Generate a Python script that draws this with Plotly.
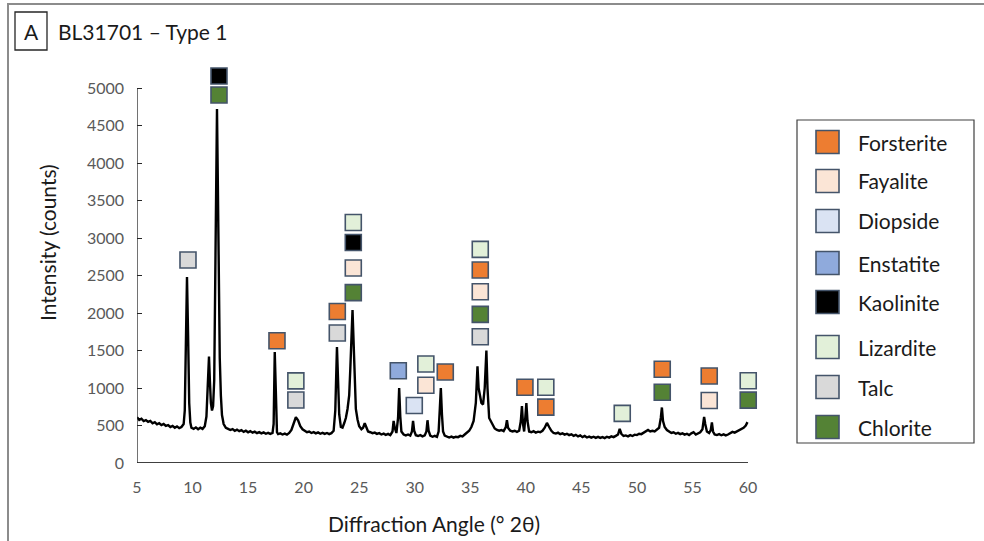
import plotly.graph_objects as go

# ---------------- data ----------------
two_theta = [
    5.0, 5.2, 5.4, 5.6, 5.8, 6.0, 6.2, 6.4, 6.6, 6.8, 7.0, 7.2, 7.4, 7.6, 7.8, 8.0, 8.2, 8.4, 8.6, 8.8,
    9.0, 9.2, 9.3, 9.4, 9.5, 9.6, 9.7, 9.8, 9.9, 10.1, 10.3, 10.5, 10.7, 10.9, 11.1, 11.25, 11.4, 11.48,
    11.56, 11.65, 11.75, 11.85, 11.95, 12.05, 12.12, 12.2, 12.28, 12.36, 12.45, 12.55, 12.65, 12.8,
    13.0, 13.2, 13.4, 13.6, 13.8, 14.0, 14.2, 14.4, 14.6, 14.8, 15.0, 15.2, 15.4, 15.6, 15.8, 16.0,
    16.2, 16.4, 16.6, 16.8, 17.0, 17.2, 17.3, 17.4, 17.5, 17.6, 17.7, 17.9, 18.1, 18.3, 18.5, 18.7,
    18.9, 19.1, 19.3, 19.5, 19.7, 19.9, 20.1, 20.3, 20.5, 20.7, 20.9, 21.1, 21.3, 21.5, 21.7, 21.9,
    22.1, 22.3, 22.5, 22.7, 22.85, 22.95, 23.0, 23.1, 23.2, 23.35, 23.5, 23.65, 23.8, 23.95, 24.1,
    24.2, 24.3, 24.4, 24.5, 24.6, 24.7, 24.85, 25.0, 25.2, 25.35, 25.5, 25.65, 25.8, 26.0, 26.2, 26.4,
    26.6, 26.8, 27.0, 27.2, 27.4, 27.6, 27.8, 28.0, 28.1, 28.2, 28.35, 28.5, 28.6, 28.7, 28.8, 29.0,
    29.2, 29.4, 29.6, 29.75, 29.85, 29.95, 30.1, 30.3, 30.5, 30.7, 30.9, 31.05, 31.15, 31.25, 31.4,
    31.6, 31.8, 32.0, 32.15, 32.25, 32.35, 32.45, 32.55, 32.7, 32.9, 33.1, 33.3, 33.5, 33.7, 33.9,
    34.1, 34.3, 34.5, 34.7, 34.9, 35.1, 35.3, 35.5, 35.65, 35.75, 35.9, 36.0, 36.15, 36.3, 36.45,
    36.55, 36.7, 36.85, 37.0, 37.2, 37.4, 37.6, 37.8, 38.0, 38.2, 38.3, 38.4, 38.6, 38.8, 39.0, 39.2,
    39.4, 39.55, 39.65, 39.75, 39.85, 39.95, 40.05, 40.15, 40.3, 40.5, 40.7, 40.9, 41.1, 41.3, 41.5,
    41.7, 41.9, 42.1, 42.3, 42.5, 42.7, 42.9, 43.1, 43.3, 43.5, 43.7, 43.9, 44.1, 44.3, 44.5, 44.7,
    44.9, 45.1, 45.3, 45.5, 45.7, 45.9, 46.1, 46.3, 46.5, 46.7, 46.9, 47.1, 47.3, 47.5, 47.7, 47.9,
    48.1, 48.3, 48.45, 48.6, 48.8, 49.0, 49.2, 49.4, 49.6, 49.8, 50.0, 50.2, 50.4, 50.6, 50.8, 51.0,
    51.2, 51.4, 51.6, 51.8, 52.0, 52.15, 52.25, 52.35, 52.5, 52.7, 52.9, 53.1, 53.3, 53.5, 53.7,
    53.9, 54.1, 54.3, 54.5, 54.7, 54.9, 55.1, 55.3, 55.5, 55.7, 55.9, 56.05, 56.15, 56.3, 56.5,
    56.65, 56.75, 56.85, 57.0, 57.2, 57.4, 57.6, 57.8, 58.0, 58.2, 58.4, 58.6, 58.8, 59.0, 59.2,
    59.4, 59.6, 59.8, 59.95,
]
counts = [
    610, 575, 590, 560, 572, 548, 560, 530, 545, 515, 530, 505, 520, 495, 505, 480, 495, 470, 488, 465,
    480, 520, 700, 1500, 2480, 1700, 800, 540, 470, 455, 475, 450, 470, 455, 490, 620, 1150, 1420,
    1100, 800, 700, 760, 1100, 2600, 4000, 4720, 3700, 2400, 1400, 900, 640, 520,
    470, 455, 440, 452, 430, 445, 425, 438, 415, 430, 410, 425, 405, 418, 398, 412,
    395, 408, 390, 402, 388, 400, 520, 1480, 720, 410, 385, 395, 380, 392, 378, 400,
    440, 540, 610, 570, 490, 450, 425, 410, 420, 400, 412, 395, 408, 390, 402, 388,
    400, 385, 398, 430, 700, 1400, 1545, 1100, 650, 480, 470, 530, 600, 720, 900,
    1250, 1700, 2040, 1600, 1000, 720, 580, 490, 450, 470, 530, 460, 420, 410, 398, 405,
    388, 398, 380, 392, 375, 388, 372, 420, 560, 470, 400, 600, 1000, 620, 420, 380,
    368, 380, 365, 420, 560, 430, 370, 360, 372, 355, 368, 420, 570, 430, 365,
    350, 362, 348, 420, 700, 1000, 650, 420, 365, 350, 340, 352, 338, 350, 345,
    362, 355, 380, 400, 430, 480, 560, 800, 1290, 1000, 850, 800, 780, 1000, 1500,
    1000, 600, 560, 520, 460, 440, 430, 440, 425, 480, 570, 470, 430, 420, 430, 415,
    430, 560, 760, 520, 420, 600, 800, 560, 420, 410, 425, 405, 418, 410, 430,
    470, 535, 480, 430, 400, 392, 405, 385, 395, 378, 390, 372, 382, 362, 375, 355,
    368, 345, 360, 340, 352, 338, 350, 335, 348, 335, 345, 332, 350, 338, 355, 345,
    362, 380, 455, 390, 360, 368, 355, 372, 360, 378, 372, 390, 385, 405, 420, 440,
    420, 430, 420, 440, 470, 600, 740, 560, 480, 440, 420, 400, 410, 390, 402,
    385, 395, 378, 390, 372, 395, 410, 380, 392, 410, 450, 613, 520, 420, 400,
    440, 540, 420, 380, 372, 385, 370, 382, 368, 380, 400, 415, 405, 420, 430,
    450, 470, 500, 545,
]

minerals = ["Forsterite", "Fayalite", "Diopside", "Enstatite",
            "Kaolinite", "Lizardite", "Talc", "Chlorite"]
mineral_colors = ["#ED7D31", "#FBE5D6", "#DAE3F3", "#8FAADC",
                  "#000000", "#E2F0D9", "#D9D9D9", "#548235"]

# label positions (angle, intensity) for each phase marker
forsterite_x = [17.6, 23.03, 32.75, 35.9, 39.92, 41.8, 52.28, 56.51]
forsterite_y = [1630, 2020, 1213, 2573, 1010, 745, 1250, 1160]
fayalite_x = [24.47, 31.0, 35.9, 56.51]
fayalite_y = [2600, 1036, 2283, 833]
diopside_x = [29.96]
diopside_y = [766]
enstatite_x = [28.52]
enstatite_y = [1230]
kaolinite_x = [12.38, 24.47]
kaolinite_y = [5160, 2940]
lizardite_x = [19.3, 24.47, 31.0, 35.9, 41.8, 48.68, 60.02]
lizardite_y = [1095, 3206, 1320, 2848, 1010, 662, 1097]
talc_x = [9.59, 19.3, 23.03, 35.9]
talc_y = [2707, 840, 1733, 1684]
chlorite_x = [12.38, 24.47, 35.9, 52.28, 60.02]
chlorite_y = [4907, 2272, 1982, 943, 838]

marker_x = [forsterite_x, fayalite_x, diopside_x, enstatite_x,
            kaolinite_x, lizardite_x, talc_x, chlorite_x]
marker_y = [forsterite_y, fayalite_y, diopside_y, enstatite_y,
            kaolinite_y, lizardite_y, talc_y, chlorite_y]

x_ticks = [5, 10, 15, 20, 25, 30, 35, 40, 45, 50, 55, 60]
y_ticks = [0, 500, 1000, 1500, 2000, 2500, 3000, 3500, 4000, 4500, 5000]
x_axis_span = [5, 60]
y_axis_span = [0, 5000]

# ---------------- layout geometry (pixels) ----------------
W, H = 984, 541
X0_PX, X1_PX = 137, 748     # pixel positions of x = 5 and x = 60
Y0_PX, Y1_PX = 463, 88      # pixel positions of y = 0 and y = 5000
sx = (X1_PX - X0_PX) / (x_axis_span[1] - x_axis_span[0])
sy = (Y0_PX - Y1_PX) / (y_axis_span[1] - y_axis_span[0])

# enlarge the plotting area a little so that the phase labels at the
# edges (x = 60, y > 5000) are not hidden; axis lines are drawn as shapes
L, B = X0_PX, Y0_PX
R, T = 756, 62
x_range = [x_axis_span[0], x_axis_span[0] + (R - L) / sx]
y_range = [y_axis_span[0], y_axis_span[0] + (B - T) / sy]

FONT = "Lato, Calibri, Carlito, sans-serif"


def px(x):
    return (x - L) / (R - L)


def py(y):
    return (B - y) / (B - T)


fig = go.Figure()

fig.add_trace(go.Scatter(
    x=two_theta, y=counts, mode="lines",
    line=dict(color="#000000", width=2.4),
    showlegend=False, hoverinfo="x+y",
))

for name, col, xs, ys in zip(minerals, mineral_colors, marker_x, marker_y):
    fig.add_trace(go.Scatter(
        x=xs, y=ys, mode="markers", name=name,
        marker=dict(symbol="square", size=16, color=col,
                    line=dict(color="#44546A", width=1.6)),
        cliponaxis=False, showlegend=False,
    ))

shapes = []
annotations = []

# axis lines
shapes.append(dict(type="line", xref="x", yref="y",
                   x0=x_axis_span[0], x1=x_axis_span[1], y0=0, y1=0,
                   line=dict(color="#000000", width=1.3)))
shapes.append(dict(type="line", xref="x", yref="y",
                   x0=x_axis_span[0], x1=x_axis_span[0],
                   y0=y_axis_span[0], y1=y_axis_span[1],
                   line=dict(color="#262626", width=1.3)))

# outer frame
shapes.append(dict(type="rect", xref="paper", yref="paper",
                   x0=px(8), x1=px(W + 20), y0=py(H + 20), y1=py(4),
                   line=dict(color="#8c8c8c", width=2), fillcolor="rgba(0,0,0,0)",
                   layer="below"))
# panel letter box
shapes.append(dict(type="rect", xref="paper", yref="paper",
                   x0=px(15), x1=px(47), y0=py(50), y1=py(12),
                   line=dict(color="#262626", width=1.3), fillcolor="rgba(0,0,0,0)"))
annotations.append(dict(xref="paper", yref="paper", x=px(31), y=py(31),
                        text="A", showarrow=False, xanchor="center", yanchor="middle",
                        font=dict(family=FONT, size=21, color="#1a1a1a")))
annotations.append(dict(xref="paper", yref="paper", x=px(56), y=py(31),
                        text="BL31701 – Type 1", showarrow=False,
                        xanchor="left", yanchor="middle",
                        font=dict(family=FONT, size=21, color="#1a1a1a")))

# axis titles
annotations.append(dict(xref="paper", yref="paper", x=px(47), y=py(243),
                        text="Intensity (counts)", showarrow=False, textangle=-90,
                        xanchor="center", yanchor="middle",
                        font=dict(family=FONT, size=21, color="#1a1a1a")))
annotations.append(dict(xref="paper", yref="paper", x=px(434), y=py(523),
                        text="Diffraction Angle (° 2θ)", showarrow=False,
                        xanchor="center", yanchor="middle",
                        font=dict(family=FONT, size=21, color="#1a1a1a")))

# custom legend box
shapes.append(dict(type="rect", xref="paper", yref="paper",
                   x0=px(797), x1=px(974), y0=py(443), y1=py(120),
                   line=dict(color="#404040", width=1.2), fillcolor="white"))
legend_rows = [142, 181, 221, 263, 302, 347, 387, 427]
for name, col, ry in zip(minerals, mineral_colors, legend_rows):
    shapes.append(dict(type="rect", xref="paper", yref="paper",
                       x0=px(816), x1=px(839), y0=py(ry + 11.5), y1=py(ry - 11.5),
                       line=dict(color="#44546A", width=1.6), fillcolor=col))
    annotations.append(dict(xref="paper", yref="paper", x=px(856), y=py(ry),
                            text=name, showarrow=False, xanchor="left", yanchor="middle",
                            font=dict(family=FONT, size=21, color="#1a1a1a")))

fig.update_layout(
    width=W, height=H,
    margin=dict(l=L, r=W - R, t=T, b=H - B, pad=0),
    paper_bgcolor="white", plot_bgcolor="white",
    shapes=shapes, annotations=annotations,
    showlegend=False,
    font=dict(family=FONT),
)

fig.update_xaxes(
    range=x_range, tickvals=x_ticks, ticktext=[str(v) for v in x_ticks],
    showgrid=False, zeroline=False, showline=False,
    ticks="", tickfont=dict(family=FONT, size=16, color="#595959"),
    ticklabelstandoff=13,
)
fig.update_yaxes(
    range=y_range, tickvals=y_ticks, ticktext=[str(v) for v in y_ticks],
    showgrid=False, zeroline=False, showline=False,
    ticks="inside", ticklen=5, tickwidth=1.3, tickcolor="#262626",
    tickfont=dict(family=FONT, size=16, color="#595959"),
    ticklabelstandoff=12,
)

fig.write_html("out.html")
